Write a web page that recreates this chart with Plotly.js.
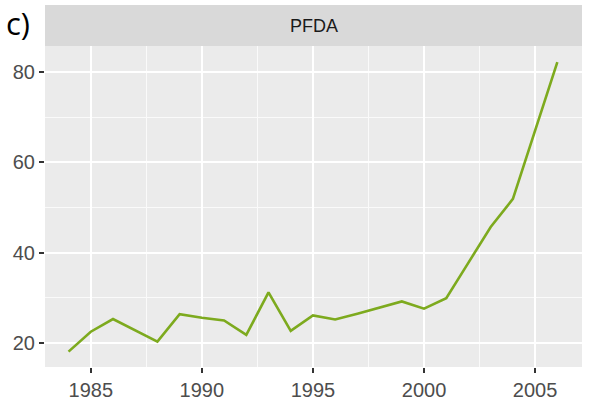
<!DOCTYPE html>
<html>
<head>
<meta charset="utf-8">
<script src="https://cdn.plot.ly/plotly-3.0.1.min.js"></script>
<style>html,body{margin:0;padding:0;background:#fff;}#chart{width:589px;height:404px;}</style>
</head>
<body>
<div id="chart"></div>
<script>
const years = [1984,1985,1986,1987,1988,1989,1990,1991,1992,1993,1994,1995,1996,1997,1998,1999,2000,2001,2002,2003,2004,2005,2006];
const pfda  = [18.1,22.5,25.3,22.8,20.3,26.4,25.6,25.0,21.8,31.2,22.7,26.1,25.2,26.5,27.8,29.2,27.6,29.9,37.8,45.7,51.9,67.0,82.2];
const xTicks = [1985,1990,1995,2000,2005];
const yTicks = [20,40,60,80];
const panelTitle = 'PFDA';
const panelLabel = 'c)';

const trace = {
  x: years, y: pfda, type: 'scatter', mode: 'lines',
  line: {color: '#7DAA1E', width: 2.6}, hoverinfo: 'skip'
};

const stripTop = (46 - 5) / 321;

const layout = {
  width: 589, height: 404,
  margin: {l: 45, r: 7, t: 46, b: 37},
  paper_bgcolor: '#FFFFFF',
  plot_bgcolor: '#EBEBEB',
  showlegend: false,
  font: {family: '"Liberation Sans", Arial, sans-serif', color: '#4D4D4D', size: 20},
  xaxis: {
    range: [1982.94, 2007.11], tickmode: 'array', tickvals: xTicks, ticktext: xTicks.map(String),
    showgrid: true, gridcolor: '#FFFFFF', gridwidth: 2,
    minor: {dtick: 2.5, tick0: 1982.5, showgrid: true, gridcolor: '#FAFAFA', gridwidth: 1, ticks: ''},
    zeroline: false, showline: false,
    ticks: 'outside', ticklen: 5, tickwidth: 2, tickcolor: '#333333',
    tickfont: {size: 20, color: '#4D4D4D'}, fixedrange: true
  },
  yaxis: {
    range: [14.69, 85.76], tickmode: 'array', tickvals: yTicks, ticktext: yTicks.map(String),
    showgrid: true, gridcolor: '#FFFFFF', gridwidth: 2,
    minor: {dtick: 10, tick0: 10, showgrid: true, gridcolor: '#FAFAFA', gridwidth: 1, ticks: ''},
    zeroline: false, showline: false,
    ticks: 'outside', ticklen: 5, tickwidth: 2, tickcolor: '#333333',
    tickfont: {size: 20, color: '#4D4D4D'}, fixedrange: true
  },
  shapes: [{
    type: 'rect', xref: 'paper', yref: 'paper', x0: 0, x1: 1, y0: 1, y1: 1 + stripTop,
    fillcolor: '#D9D9D9', line: {width: 0}, layer: 'below'
  }],
  annotations: [
    {text: panelTitle, xref: 'paper', yref: 'paper', x: 0.5, y: 1 + stripTop / 2,
     xanchor: 'center', yanchor: 'middle', showarrow: false,
     font: {size: 18, color: '#1A1A1A', family: '"Liberation Sans", Arial, sans-serif'}},
    {text: panelLabel, xref: 'paper', yref: 'paper', x: -45/537, y: 1 + stripTop + 5/321,
     xanchor: 'left', yanchor: 'top', showarrow: false, xshift: 4,
     font: {size: 31, color: '#000000', family: '"Open Sans", "Noto Sans", sans-serif'}}
  ]
};

Plotly.newPlot('chart', [trace], layout, {staticPlot: true, displayModeBar: false});
</script>
</body>
</html>
